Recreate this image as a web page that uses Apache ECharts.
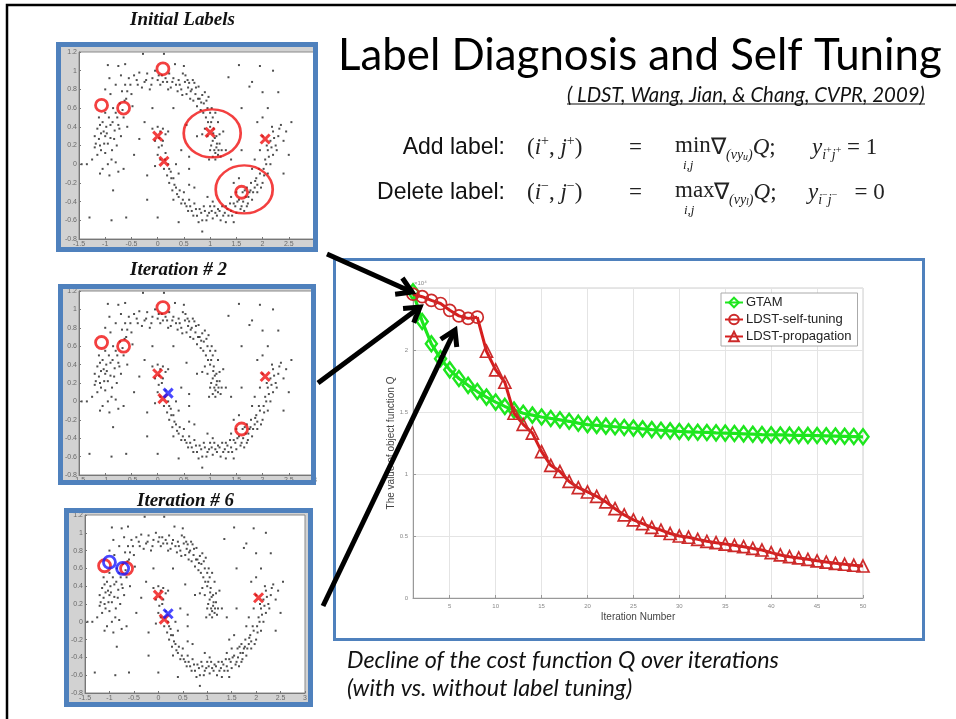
<!DOCTYPE html>
<html><head><meta charset="utf-8">
<script src="https://cdn.jsdelivr.net/npm/echarts@6/dist/echarts.min.js"></script>
<style>html,body{margin:0;padding:0;background:#fff}#c{width:956px;height:719px}</style>
</head><body><div id="c"></div>
<script>
// ---------------- DATA ----------------
const legendNames = ['GTAM', 'LDST-self-tuning', 'LDST-propagation'];
const gtamQ = [2.47, 2.23, 2.05, 1.93, 1.84, 1.77, 1.715, 1.665, 1.62, 1.58,
  1.545, 1.515, 1.49, 1.475, 1.46, 1.448, 1.437, 1.425, 1.41, 1.398,
  1.392, 1.386, 1.381, 1.375, 1.37, 1.364, 1.358, 1.353, 1.348, 1.343,
  1.34, 1.337, 1.335, 1.332, 1.33, 1.327, 1.324, 1.321, 1.318, 1.316,
  1.315, 1.313, 1.312, 1.311, 1.31, 1.308, 1.306, 1.304, 1.302, 1.30];
const selfTuningIter = [1, 2, 3, 4, 5, 6, 7, 8];
const selfTuningQ = [2.45, 2.43, 2.40, 2.375, 2.32, 2.275, 2.255, 2.265];
const propagationIter = [9, 10, 11, 12, 13, 14, 15, 16, 17, 18, 19, 20, 21, 22, 23, 24, 25, 26, 27, 28, 29,
  30, 31, 32, 33, 34, 35, 36, 37, 38, 39, 40, 41, 42, 43, 44, 45, 46, 47, 48, 49, 50];
const propagationQ = [1.99, 1.84, 1.74, 1.49, 1.40, 1.33, 1.18, 1.07, 1.02, 0.94, 0.89,
  0.855, 0.82, 0.775, 0.72, 0.67, 0.63, 0.60, 0.57, 0.548, 0.52,
  0.50, 0.49, 0.473, 0.457, 0.446, 0.435, 0.425, 0.414, 0.40, 0.387,
  0.366, 0.347, 0.333, 0.323, 0.312, 0.30, 0.29, 0.28, 0.272, 0.264, 0.258];
const xTickValues = [5, 10, 15, 20, 25, 30, 35, 40, 45, 50];

// scatter panels (same unlabeled data set in all three panels)
const unlabeledPts = [
  [-1.25,0.05],[-1.2,0.18],[-1.15,0.38],[-1.12,0.27],[-1.1,0.2],[-1.08,0.33],[-1.05,0.45],[-1.03,0.35],[-1.0,0.3],[-1.0,0.12],
  [-0.98,0.4],[-0.95,0.22],[-0.93,0.5],[-0.9,0.28],[-0.88,0.05],[-0.86,0.45],[-0.85,0.6],[-0.82,0.36],[-0.8,0.55],[-0.78,0.2],
  [-0.75,0.42],[-0.72,0.65],[-0.7,0.3],[-0.68,0.78],[-0.65,0.5],[-0.62,0.85],[-0.6,0.7],[-0.58,0.4],[-0.55,0.92],[-0.5,0.75],
  [-0.48,0.62],[-1.18,0.22],[-1.05,-0.05],[-0.95,0.0],[-0.92,-0.12],[-0.8,0.02],[-0.75,-0.08],[-0.65,-0.05],[-1.35,0.0],[-1.0,0.55],
  [-0.9,0.75],[-0.8,0.85],[-0.92,0.92],[-0.75,1.05],[-0.95,1.06],[-0.62,1.07],[-0.7,0.95],
  [-1.15,0.1],[-1.1,0.42],[-1.08,0.15],[-1.02,0.22],[-0.97,0.33],[-0.9,0.42],[-0.87,0.15],[-0.83,0.27],[-0.77,0.5],[-0.73,0.38],
  [-0.67,0.58],[-0.63,0.68],[-0.58,0.78],[-0.52,0.85],[-1.2,0.3],[-1.12,0.5],
  [-0.4,0.9],[-0.35,0.98],[-0.3,0.82],[-0.28,1.18],[-0.25,0.88],[-0.2,0.97],[-0.15,0.8],[-0.1,0.92],[-0.05,1.0],[0,0.9],
  [0.05,0.85],[0.08,0.95],[0.12,1.18],[0.15,0.92],[0.18,0.88],[0.22,0.97],[0.25,0.82],[0.3,0.92],[0.33,1.07],[0.35,0.85],
  [0.38,0.78],[0.4,0.9],[0.45,0.8],[0.48,0.97],[0.5,1.05],[0.52,0.88],[0.55,0.75],[0.58,0.82],[0.6,0.87],[0.62,0.7],
  [0.65,0.8],[0.68,0.68],[0.7,0.87],[0.72,0.75],[0.75,0.62],[0.78,0.83],[0.8,0.7],[0.82,0.58],[0.85,0.74],[0.88,0.65],
  [0.9,0.77],[0.92,0.5],[0.95,0.6],[0.97,0.72],[1.0,0.55],[1.02,0.45],[1.05,0.5],[1.07,0.38],[1.1,0.55],[1.12,0.3],
  [1.15,0.45],[1.18,0.22],[1.05,0.25],[1.08,0.15],[1.1,0.12],[1.12,0.18],[1.15,0.1],[1.2,0.08],[1.0,0.15],[0.95,0.3],
  [0.9,0.38],[0.85,0.32],[1.25,0.35],[1.22,0.15],[0.98,0.05],[1.3,0.15],
  [-0.45,0.95],[-0.38,0.85],[-0.22,0.9],[-0.12,0.85],[0.02,0.95],[0.1,0.88],[0.2,0.8],[0.28,0.88],[0.42,0.85],[0.47,0.74],
  [0.53,0.95],[0.57,0.9],[0.63,0.78],[0.67,0.9],[0.73,0.82],[0.77,0.7],[0.83,0.66],[0.87,0.55],[0.93,0.68],[0.96,0.45],
  [1.0,0.4],[1.03,0.6],[1.06,0.33],[1.09,0.28],[1.13,0.22],[1.16,0.15],[1.1,0.05],[1.05,0.08],[1.18,0.32],[1.02,0.2],
  [-0.1,0.38],[0.0,0.4],[0.05,0.35],[0.1,0.38],[0.15,0.32],[0.2,0.35],[-0.05,0.25],[0.02,0.18],[0.08,0.2],[0.0,0.1],
  [0.05,0.05],[0.15,0.12],[0.12,-0.05],[0.2,0.0],[0.18,-0.12],[0.25,-0.08],[0.22,-0.2],[0.3,-0.15],[0.28,-0.28],[0.35,-0.25],
  [0.3,-0.38],[0.4,-0.35],[0.45,-0.42],[0.5,-0.3],[0.55,-0.45],[0.6,-0.38],[0.65,-0.5],[0.7,-0.42],[0.75,-0.55],[0.8,-0.48],
  [0.85,-0.6],[0.9,-0.5],[0.95,-0.55],[1.0,-0.45],[1.05,-0.58],[1.1,-0.52],[1.15,-0.48],[1.2,-0.6],[1.25,-0.55],[1.3,-0.45],
  [1.35,-0.55],[1.4,-0.5],[1.45,-0.42],[1.5,-0.52],[1.55,-0.38],[1.6,-0.45],[1.62,-0.3],[1.65,-0.5],[1.68,-0.35],[1.7,-0.25],
  [1.72,-0.42],[1.75,-0.3],[1.78,-0.2],[1.8,-0.38],[1.85,-0.25],[1.88,-0.15],[1.9,-0.3],[1.95,-0.1],[2.0,-0.2],[2.02,-0.05],
  [2.05,0.05],[2.1,-0.1],[2.1,0.15],[2.15,0.0],[2.15,0.25],[2.2,0.1],[2.2,0.35],[2.25,0.2],[2.3,0.3],[2.35,0.42],
  [2.4,0.25],[2.45,0.35],[2.55,0.45],[2.0,0.3],[1.95,0.15],[1.85,0.05],[1.8,-0.05],[1.5,-0.3],[1.45,-0.2],[1.55,-0.15],
  [1.4,-0.35],[0.35,0.0],[0.4,-0.1],[0.6,-0.22],[0.7,-0.25],[0.95,-0.35],[1.05,-0.4],[-0.05,-0.02],
  [0.03,0.28],[0.1,0.25],[0.14,0.05],[0.22,-0.05],[0.26,-0.15],[0.32,-0.22],[0.37,-0.32],[0.42,-0.28],[0.48,-0.38],[0.52,-0.42],
  [0.58,-0.5],[0.62,-0.45],[0.68,-0.55],[0.73,-0.48],[0.78,-0.62],[0.83,-0.52],[0.88,-0.45],[0.93,-0.6],[0.98,-0.52],[1.03,-0.5],
  [1.08,-0.45],[1.13,-0.55],[1.18,-0.5],[1.23,-0.45],[1.28,-0.52],[1.33,-0.48],[1.38,-0.42],[1.42,-0.55],[1.48,-0.45],[1.52,-0.4],
  [1.58,-0.48],[1.63,-0.4],[1.66,-0.28],[1.7,-0.45],[1.73,-0.35],[1.77,-0.28],[1.82,-0.3],[1.86,-0.18],[1.9,-0.22],[1.93,-0.05],
  [1.97,-0.25],[2.03,-0.12],[2.07,0.0],[2.12,0.08],[2.17,0.18],[2.22,0.28],[2.27,0.15],[2.32,0.38],[2.18,0.4],[2.08,0.2],
  [-1.3,-0.57],[-0.88,-0.6],[-0.6,-0.57],[0.0,-0.57],[-0.2,-0.38],[-1.45,0.0],[-0.85,-0.28],[0.85,-0.72],[0.4,-0.62],[1.3,-0.62],
  [1.45,-0.62],[2.0,0.5],[2.3,0.77],[2.2,1.0],[1.95,1.05],[1.55,1.06],[1.35,0.93],[1.8,0.88],[2.0,0.77],[1.75,0.83],
  [1.9,0.45],[2.1,0.6],[1.6,0.15],[1.4,0.05],[0.6,0.08],[0.45,0.15],[-0.35,0.27],[-0.25,0.45],[-0.45,0.1],[-0.2,-0.12],
  [0.55,0.42],[0.75,0.3],[1.6,0.6],[2.5,0.1],[2.4,-0.1],[-1.1,-0.1],[-1.0,0.8],[0.6,-0.05],[0.3,0.6],[-0.1,0.6]
];
const p1RedCircles = [[-1.07,0.63],[-0.65,0.6],[0.1,1.02],[1.6,-0.3]];
const p1RedCrosses = [[0.0,0.3],[0.12,0.03],[1.0,0.34],[2.05,0.27]];
const p1Ellipses = [[1.04,0.33],[1.65,-0.27]];
const p2RedCircles = [[-1.07,0.64],[-0.65,0.6],[0.1,1.02],[1.6,-0.3]];
const p2RedCrosses = [[0.0,0.3],[0.1,0.03],[2.05,0.27]];
const p2BlueCrosses = [[0.2,0.09]];
const p3RedCircles = [[-1.1,0.63],[-0.65,0.6]];
const p3BlueCircles = [[-1.0,0.67],[-0.73,0.6]];
const p3RedCrosses = [[0.0,0.3],[0.12,0.03],[2.05,0.27]];
const p3BlueCrosses = [[0.2,0.09]];

// ---------------- STYLE ----------------
const GREEN = '#1ee61e', RED = '#d61e1e', MRED = '#cc2a2a', BLUE = '#4f81bd';
const XSYM = 'path://M0,0L10,10M10,0L0,10';

const cv = document.createElement('canvas').getContext('2d');
function fit(text, font, target) { cv.font = font.replace('{s}', '100px'); return 100 * target / cv.measureText(text).width; }

const chart = echarts.init(document.getElementById('c'), null, {width: 956, height: 719});

const grids = [
  {left: 413, top: 288, width: 450, height: 310},
  {left: 79, top: 52, width: 236, height: 187},
  {left: 79, top: 291, width: 236, height: 184},
  {left: 85, top: 515, width: 220, height: 178}
].map((g, i) => Object.assign(g, {show: true, backgroundColor: '#fff', borderColor: i ? '#8a8a8a' : '#cfcfcf', borderWidth: 1, containLabel: false, outerBoundsMode: 'none'}));

const small = {fontSize: 6, color: '#888', fontFamily: 'Arial, Liberation Sans'};
const xAxes = [{
  gridIndex: 0, type: 'value', min: 1, max: 50,
  axisLine: {onZero: false, lineStyle: {color: '#999'}},
  axisTick: {show: true, inside: true, length: 3, customValues: xTickValues, lineStyle: {color: '#999'}},
  axisLabel: Object.assign({customValues: xTickValues, margin: 5}, small),
  splitLine: {show: true, lineStyle: {color: '#e4e4e4'}},
  name: 'Iteration Number', nameLocation: 'middle', nameGap: 14,
  nameTextStyle: {fontSize: 10, color: '#444', fontFamily: 'Arial, Liberation Sans'}
}];
const yAxes = [{
  gridIndex: 0, type: 'value', min: 0, max: 2.5, interval: 0.5,
  axisLine: {show: true, onZero: false, lineStyle: {color: '#999'}},
  axisTick: {show: true, inside: true, length: 3, lineStyle: {color: '#999'}},
  axisLabel: Object.assign({margin: 5}, small),
  splitLine: {show: true, lineStyle: {color: '#e4e4e4'}},
  name: 'The value of object function Q', nameLocation: 'middle', nameGap: 16, nameRotate: 90,
  nameTextStyle: {fontSize: 10, color: '#444', fontFamily: 'Arial, Liberation Sans'}
}];
for (let g = 1; g <= 3; g++) {
  xAxes.push({gridIndex: g, type: 'value', min: -1.5, max: 3, interval: 0.5,
    axisLine: {onZero: false, lineStyle: {color: '#777'}}, axisTick: {inside: true, length: 2, lineStyle: {color: '#777'}},
    axisLabel: {fontSize: 7, color: '#6a6a6a', margin: 2, fontFamily: 'Arial, Liberation Sans'}, splitLine: {show: false}});
  yAxes.push({gridIndex: g, type: 'value', min: -0.8, max: 1.2, interval: 0.2,
    axisLine: {show: true, onZero: false, lineStyle: {color: '#777'}}, axisTick: {show: true, inside: true, length: 2, lineStyle: {color: '#777'}},
    axisLabel: {fontSize: 7, color: '#6a6a6a', margin: 2, fontFamily: 'Arial, Liberation Sans',
      formatter: v => String(Math.round(v * 10) / 10)}, splitLine: {show: false}});
}

const hollow = c => ({color: 'rgba(0,0,0,0)', borderColor: c, borderWidth: 1.7});
const series = [
  {name: legendNames[0], type: 'line', xAxisIndex: 0, yAxisIndex: 0, z: 3,
   data: gtamQ.map((v, i) => [i + 1, v]), symbol: 'diamond', symbolSize: [11, 15], showAllSymbol: true,
   lineStyle: {color: GREEN, width: 3.2}, itemStyle: {color: 'rgba(0,0,0,0)', borderColor: GREEN, borderWidth: 2.5}},
  {name: legendNames[1], type: 'line', xAxisIndex: 0, yAxisIndex: 0, z: 4,
   data: selfTuningQ.map((v, i) => [selfTuningIter[i], v]), symbol: 'circle', symbolSize: 12, showAllSymbol: true,
   lineStyle: {color: RED, width: 3}, itemStyle: hollow(MRED)},
  {name: legendNames[2], type: 'line', xAxisIndex: 0, yAxisIndex: 0, z: 4,
   data: [{value: [selfTuningIter[selfTuningIter.length - 1], selfTuningQ[selfTuningQ.length - 1]], symbol: 'none'}]
     .concat(propagationQ.map((v, i) => [propagationIter[i], v])),
   symbol: 'triangle', symbolSize: 12, showAllSymbol: true,
   lineStyle: {color: RED, width: 3}, itemStyle: hollow(MRED)}
];
function pts(g, data, opt) {
  series.push(Object.assign({type: 'scatter', xAxisIndex: g, yAxisIndex: g, data: data, silent: true}, opt));
}
const dot = {symbol: 'rect', symbolSize: 2, itemStyle: {color: '#222'}, z: 2};
const rc = c => ({symbol: 'circle', symbolSize: 12, itemStyle: {color: 'rgba(0,0,0,0)', borderColor: c, borderWidth: 2.8}, z: 4});
const xc = c => ({symbol: XSYM, symbolSize: 9, itemStyle: {color: 'none', borderColor: c, borderWidth: 3}, z: 4});
pts(1, unlabeledPts, dot); pts(2, unlabeledPts, dot); pts(3, unlabeledPts, dot);
pts(1, p1RedCircles, rc('#f01010')); pts(1, p1RedCrosses, xc('#f01010'));
pts(1, p1Ellipses, {symbol: 'circle', symbolSize: [57, 48], itemStyle: {color: 'rgba(0,0,0,0)', borderColor: '#f01010', borderWidth: 2.5}, z: 4});
pts(2, p2RedCircles, rc('#f01010')); pts(2, p2RedCrosses, xc('#f01010')); pts(2, p2BlueCrosses, xc('#1a1aff'));
pts(3, p3RedCircles, rc('#f01010')); pts(3, p3BlueCircles, rc('#1a1aff'));
pts(3, p3RedCrosses, xc('#f01010')); pts(3, p3BlueCrosses, xc('#1a1aff'));

// ---------------- GRAPHIC (slide decorations) ----------------
const G = [];
const txt = (x, y, text, o) => G.push({type: 'text', x: x, y: y, z: 50, style: Object.assign({text: text, fill: '#111', align: 'left', verticalAlign: 'middle'}, o)});
// slide border
G.push({type: 'rect', shape: {x: 7, y: 5, width: 960, height: 730}, style: {fill: null, stroke: '#000', lineWidth: 2.5}, z: 60});
// panel backgrounds & frames
const panels = [[56, 42, 262, 210], [58, 284, 258, 201], [64, 508, 249, 199]];
panels.forEach(p => {
  G.push({type: 'rect', shape: {x: p[0], y: p[1], width: p[2], height: p[3]}, style: {fill: '#d2d2d2'}, z: -10});
  G.push({type: 'rect', shape: {x: p[0] + 2.5, y: p[1] + 2.5, width: p[2] - 5, height: p[3] - 5}, style: {fill: null, stroke: BLUE, lineWidth: 5}, z: 40});
});
// main chart frame
G.push({type: 'rect', shape: {x: 334.5, y: 259.5, width: 589, height: 380}, style: {fill: null, stroke: BLUE, lineWidth: 3}, z: 40});
// exponent
txt(414, 283, '×10⁴', {fontSize: 6, fill: '#888', fontFamily: 'Arial'});

// panel titles
const ptFont = 'italic bold {s} "Liberation Serif"';
const ptSize = fit('Initial Labels', ptFont, 105);
[[130, 20, 'Initial Labels'], [130, 270, 'Iteration # 2'], [137, 501, 'Iteration # 6']].forEach(t =>
  txt(t[0], t[1], t[2], {fontFamily: 'Liberation Serif', fontStyle: 'italic', fontWeight: 'bold', fontSize: ptSize, fill: '#111'}));

// title
const tFont = '{s} Lato';
txt(338, 56, 'Label Diagnosis and Self Tuning', {fontFamily: 'Lato', fontSize: fit('Label Diagnosis and Self Tuning', tFont, 604), fill: '#000'});
// citation
const cit = '( LDST, Wang, Jian, & Chang, CVPR, 2009)';
const cSize = fit(cit, 'italic {s} Lato', 358);
txt(567, 95, cit, {fontFamily: 'Lato', fontStyle: 'italic', fontSize: cSize, fill: '#111'});
G.push({type: 'line', shape: {x1: 567, y1: 104, x2: 925, y2: 104}, style: {stroke: '#111', lineWidth: 1.2}, z: 50});

// formulas
const lbSize = fit('Delete label:', '{s} "Liberation Sans"', 128);
txt(505, 148, 'Add label:', {fontFamily: 'Liberation Sans', fontSize: lbSize, align: 'right'});
txt(505, 193, 'Delete label:', {fontFamily: 'Liberation Sans', fontSize: lbSize, align: 'right'});
const SER = 'Liberation Serif';
const rich = {
  n: {fontFamily: SER, fontSize: 23, lineHeight: 28, verticalAlign: 'middle', fill: '#222'},
  i: {fontFamily: SER, fontSize: 23, fontStyle: 'italic', lineHeight: 28, verticalAlign: 'middle', fill: '#222'},
  sp: {fontFamily: SER, fontSize: 14, lineHeight: 14, verticalAlign: 'top', fill: '#222'},
  sb: {fontFamily: SER, fontSize: 14, fontStyle: 'italic', lineHeight: 14, verticalAlign: 'bottom', fill: '#222'},
  sbp: {fontFamily: SER, fontSize: 10, lineHeight: 10, verticalAlign: 'bottom', padding: [0, 0, 7, 0], fill: '#222'},
  sbb: {fontFamily: SER, fontSize: 10, fontStyle: 'italic', lineHeight: 8, verticalAlign: 'bottom', fill: '#222'},
  s: {fontFamily: SER, fontSize: 13, fontStyle: 'italic', fill: '#222'}
};
const rt = (x, y, t) => txt(x, y, t, {rich: rich});
rt(527, 148, '{n|(}{i|i}{sp|+}{n|, }{i|j}{sp|+}{n|)}');
rt(629, 148, '{n|=}');
rt(675, 146, '{n|min}'); rt(683, 166, '{s|i,j}');
rt(711, 148, '{n|∇}{sb|(vy}{sbb|u}{sb|)}{i|Q}{n|;}');
rt(812, 148, '{i|y}{sb|i}{sbp|+}{sb|j}{sbp|+}{n| = 1}');
rt(527, 193, '{n|(}{i|i}{sp|−}{n|, }{i|j}{sp|−}{n|)}');
rt(629, 193, '{n|=}');
rt(675, 191, '{n|max}'); rt(684, 211, '{s|i,j}');
rt(714, 193, '{n|∇}{sb|(vy}{sbb|l}{sb|)}{i|Q}{n|;}');
rt(808, 193, '{i|y}{sb|i}{sbp|−}{sb|j}{sbp|−}{n|   = 0}');

// caption
const capFont = 'italic {s} Lato';
const c1 = 'Decline of the cost function Q over iterations';
const capSize = fit(c1, capFont, 432);
txt(347, 660, c1, {fontFamily: 'Lato', fontStyle: 'italic', fontSize: capSize, fill: '#111'});
txt(347, 688, '(with vs. without label tuning)', {fontFamily: 'Lato', fontStyle: 'italic', fontSize: capSize, fill: '#111'});

// arrows
function arrow(x1, y1, x2, y2) {
  const a = Math.atan2(y2 - y1, x2 - x1), L = 17, w = 0.55;
  const p1 = [x2 - L * Math.cos(a - w), y2 - L * Math.sin(a - w)];
  const p2 = [x2 - L * Math.cos(a + w), y2 - L * Math.sin(a + w)];
  G.push({type: 'line', shape: {x1: x1, y1: y1, x2: x2 - 2 * Math.cos(a), y2: y2 - 2 * Math.sin(a)}, style: {stroke: '#000', lineWidth: 5}, z: 200});
  G.push({type: 'polyline', shape: {points: [p1, [x2, y2], p2]}, style: {stroke: '#000', lineWidth: 5, fill: null, lineJoin: 'miter'}, z: 200});
}
arrow(327, 254, 412, 292);
arrow(318, 383, 420, 307);
arrow(323, 606, 455, 330);

chart.setOption({
  animation: false,
  backgroundColor: '#fff',
  grid: grids, xAxis: xAxes, yAxis: yAxes, series: series,
  legend: {
    data: legendNames, orient: 'vertical', left: 721, top: 293, itemGap: 4, itemWidth: 18, itemHeight: 12,
    padding: [3, 6, 3, 3], backgroundColor: '#fff', borderColor: '#aaa', borderWidth: 1, selectedMode: false,
    textStyle: {fontSize: 13, color: '#222', fontFamily: 'Arial, Liberation Sans', padding: [0, 0, 0, -2]}
  },
  graphic: G
});
</script>
</body></html>
